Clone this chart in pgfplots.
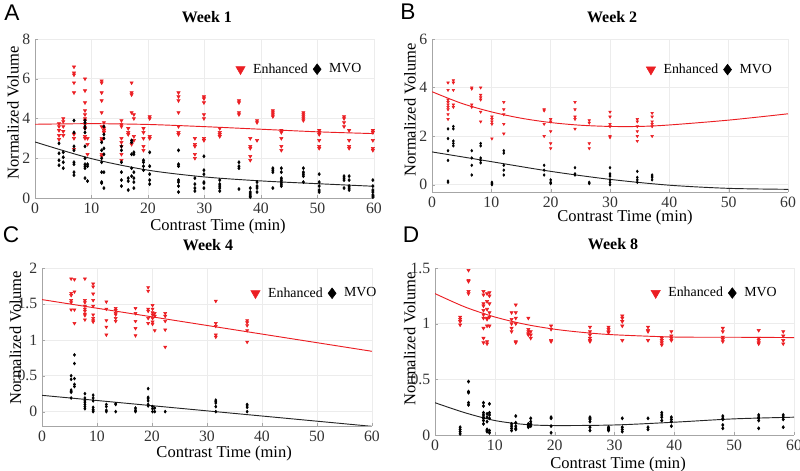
\documentclass[border=0pt]{standalone}
\usepackage{pgfplots}
\pgfplotsset{compat=1.18}
\usepackage{fontspec}
\setmainfont{Liberation Serif}
\newfontfamily\panelfont{Liberation Sans}
\definecolor{mred}{RGB}{235,30,35}
\pgfplotsset{
  panel/.style={
    scale only axis, anchor=south west,
    xmin=0, xmax=60, xtick={0,10,...,60},
    axis x line*=bottom, axis y line*=left,
    axis line style={gray!70, line width=0.5pt},
    grid=major, major grid style={gray!15, line width=0.4pt},
    tick align=inside, major tick length=2pt, tick style={gray!70},
    ticklabel style={font=\fontsize{11.8}{12}\selectfont, text=black!80},
    /pgf/number format/assume math mode=true,
    label style={font=\fontsize{12.4}{14}\selectfont},
    title style={font=\bfseries\fontsize{12}{14}\selectfont, anchor=center},
    xlabel={Contrast Time (min)}, ylabel={Normalized Volume},
    xlabel style={anchor=center}, ylabel style={anchor=center, rotate=0},
    legend style={draw=none, fill=none, font=\fontsize{10.4}{12}\selectfont, anchor=west,
      legend columns=2,
      /tikz/every even column/.append style={column sep=2pt},
      /tikz/every odd column/.append style={column sep=4pt}},
    legend image post style={mark size=4pt},
  },
  enh/.style={only marks, mark=triangle*, mark options={rotate=180, fill=mred, draw=mred}, mark size=1.4pt},
  mvo/.style={only marks, mark=diamond*, mark options={fill=black, draw=black}, mark size=1.2pt},
  fitr/.style={mred, line width=0.7pt, smooth, no marks, forget plot},
  fitk/.style={black!85, line width=0.7pt, smooth, no marks, forget plot},
}
\begin{document}
\begin{tikzpicture}
\useasboundingbox (0,0) rectangle (600pt,353.25pt);
% ---------------- A ----------------
\begin{axis}[panel, at={(26.25pt,204.75pt)}, width=254.25pt, height=119.25pt,
  ymin=0, ymax=8, ytick={0,2,...,8}, title={Week 1},
  title style={at={(axis description cs:0.507,1.088)}},
  xlabel style={at={(axis description cs:0.54,-0.182)}},
  ylabel style={at={(axis description cs:-0.065,0.535)}},
  legend style={at={(0.58,0.81)}}]
\addplot[enh] table[row sep=\\] {x y\\
4.25 3.75\\4.25 3.6\\4.25 3.4\\4.25 3.15\\4.25 2.95\\
5.0 4.0\\5.0 3.85\\5.0 3.6\\5.0 3.35\\5.0 3.15\\
6.9 6.6\\6.9 6.3\\6.9 6.2\\6.9 5.8\\6.9 5.3\\6.9 3.2\\6.9 3.0\\6.9 2.45\\
8.85 6.0\\8.85 5.4\\8.85 4.8\\8.85 4.4\\8.85 4.2\\8.85 4.0\\8.85 3.9\\8.85 3.7\\8.85 3.5\\8.85 3.1\\8.85 3.0\\
9.3 3.0\\9.3 2.7\\9.3 2.2\\
11.8 5.9\\11.8 5.8\\11.8 5.3\\11.8 4.9\\11.8 4.3\\11.8 3.6\\11.8 3.0\\11.8 2.9\\11.8 2.2\\11.8 2.1\\
12.2 3.8\\12.2 3.5\\12.2 3.4\\12.2 3.3\\
15.3 3.9\\15.3 3.7\\15.3 3.6\\15.3 3.0\\15.3 2.8\\15.3 2.6\\15.3 2.2\\15.3 1.9\\
16.5 3.5\\16.5 3.3\\16.5 3.2\\
17.1 5.8\\17.1 5.3\\17.1 5.2\\17.1 4.3\\17.1 2.7\\
17.5 4.2\\17.5 4.0\\17.5 3.1\\17.5 2.9\\
19.2 3.5\\19.2 3.3\\19.2 3.0\\19.2 2.6\\19.2 2.4\\
20.3 4.1\\20.3 4.0\\20.3 3.1\\20.3 3.0\\
25.4 5.3\\25.4 5.1\\25.4 4.9\\25.4 4.3\\25.4 3.6\\25.4 3.3\\25.4 3.2\\
28.3 3.0\\28.3 2.7\\28.3 2.6\\28.3 2.2\\28.3 2.0\\
29.9 5.1\\29.9 5.0\\29.9 4.8\\29.9 4.2\\29.9 4.0\\29.9 3.0\\29.9 2.9\\
32.7 3.5\\32.7 3.3\\32.7 3.2\\32.7 3.1\\
36.1 4.9\\36.1 4.8\\36.1 4.3\\36.1 4.2\\
38.1 3.0\\38.1 2.6\\38.1 2.5\\38.1 2.1\\38.1 1.9\\
39.3 3.9\\39.3 3.8\\39.3 2.9\\
42.1 4.4\\42.1 4.3\\42.1 4.2\\42.1 4.1\\
43.6 3.4\\43.6 3.3\\43.6 3.0\\43.6 2.6\\43.6 2.4\\
47.5 4.3\\47.5 4.2\\47.5 4.1\\47.5 4.0\\47.5 3.9\\
50.3 3.4\\50.3 3.3\\50.3 3.2\\50.3 2.9\\50.3 2.6\\50.3 2.5\\
54.7 4.1\\54.7 4.0\\54.7 3.8\\54.7 3.6\\
55.6 3.4\\55.6 2.9\\55.6 2.6\\55.6 2.5\\
59.8 3.4\\59.8 3.3\\59.8 2.9\\59.8 2.5\\59.8 2.4\\
};
\addlegendentry{Enhanced}
\addplot[mvo] table[row sep=\\] {x y\\
4.25 2.75\\4.25 2.25\\4.25 1.9\\4.25 1.65\\
5.0 2.3\\5.0 2.05\\5.0 1.8\\5.0 1.5\\
6.9 3.9\\6.9 3.3\\6.9 2.6\\6.9 2.4\\6.9 1.8\\6.9 1.7\\6.9 1.3\\6.9 1.15\\
8.85 3.9\\8.85 3.8\\8.85 3.6\\8.85 3.5\\8.85 3.3\\8.85 2.6\\8.85 2.0\\8.85 1.7\\8.85 1.6\\8.85 1.5\\8.85 1.0\\
9.3 1.7\\9.3 1.6\\9.3 0.85\\
11.8 2.8\\11.8 2.4\\11.8 2.0\\11.8 1.8\\11.8 1.3\\11.8 0.8\\11.8 0.75\\
12.2 3.6\\12.2 3.2\\12.2 3.0\\12.2 2.5\\12.2 2.2\\12.2 1.3\\12.2 0.5\\
15.3 2.6\\15.3 2.4\\15.3 1.8\\15.3 1.3\\15.3 0.9\\15.3 0.6\\
16.5 1.0\\16.5 0.85\\16.5 0.4\\
17.1 2.9\\17.1 2.8\\17.1 2.2\\17.1 1.5\\17.1 1.1\\
17.5 2.3\\17.5 2.2\\17.5 1.3\\17.5 1.0\\17.5 0.8\\17.5 0.5\\
19.2 1.9\\19.2 1.8\\19.2 1.6\\19.2 1.4\\
20.3 2.3\\20.3 1.6\\20.3 1.2\\20.3 0.9\\20.3 0.7\\
25.4 2.4\\25.4 1.7\\25.4 1.6\\25.4 0.9\\25.4 0.8\\25.4 0.6\\25.4 0.3\\
28.3 1.0\\28.3 0.7\\28.3 0.5\\28.3 0.35\\
29.9 2.1\\29.9 1.4\\29.9 1.2\\29.9 0.8\\29.9 0.75\\29.9 0.5\\
32.7 0.9\\32.7 0.7\\32.7 0.6\\32.7 0.5\\32.7 0.35\\
36.1 1.8\\36.1 1.6\\36.1 1.5\\36.1 0.45\\
38.1 0.5\\38.1 0.3\\38.1 0.2\\38.1 0.1\\38.1 0.05\\
39.3 0.8\\39.3 0.6\\39.3 0.5\\39.3 0.3\\
42.1 1.5\\42.1 1.4\\42.1 1.3\\42.1 0.5\\
43.6 1.5\\43.6 1.3\\43.6 1.0\\43.6 0.9\\43.6 0.8\\43.6 0.7\\43.6 0.6\\
47.5 1.5\\47.5 1.3\\47.5 1.2\\47.5 1.1\\47.5 0.8\\
50.3 1.2\\50.3 0.8\\50.3 0.6\\50.3 0.4\\50.3 0.3\\
54.7 1.1\\54.7 1.0\\54.7 0.9\\54.7 0.5\\
55.6 1.1\\55.6 0.9\\55.6 0.6\\55.6 0.5\\55.6 0.4\\
59.8 0.9\\59.8 0.6\\59.8 0.4\\59.8 0.3\\59.8 0.15\\59.8 0.05\\
};
\addlegendentry{MVO}
\addplot[fitr] coordinates {(0,3.71) (10,3.74) (20,3.70) (30,3.59) (40,3.46) (50,3.33) (60,3.24)};
\addplot[fitk] coordinates {(0,2.82) (10,1.98) (20,1.40) (30,1.06) (40,0.86) (50,0.72) (60,0.59)};
\end{axis}
% ---------------- B ----------------
\begin{axis}[panel, at={(324pt,209.25pt)}, width=267pt, height=114.75pt,
  ymin=-0.3, ymax=6, ytick={0,2,4,6}, title={Week 2},
  title style={at={(axis description cs:0.506,1.09)}},
  xlabel style={at={(axis description cs:0.542,-0.17)}},
  ylabel style={at={(axis description cs:-0.062,0.536)}},
  legend style={at={(0.59,0.80)}},
  enh/.append style={mark size=1.1pt}, mvo/.append style={mark size=1.0pt}]
\addplot[enh] table[row sep=\\] {x y\\
2.7 4.2\\2.7 3.9\\2.7 3.5\\2.7 3.4\\2.7 3.3\\2.7 3.2\\2.7 3.1\\2.7 2.9\\2.7 2.7\\
3.6 4.3\\3.6 4.2\\3.6 3.9\\3.6 3.3\\3.6 3.2\\
6.7 4.0\\6.7 3.95\\6.7 3.3\\6.7 3.2\\
8.2 4.0\\8.2 3.7\\8.2 3.6\\8.2 3.5\\8.2 3.0\\8.2 2.6\\
10.1 2.8\\10.1 2.7\\10.1 2.6\\10.1 2.5\\10.1 1.9\\
12.1 3.4\\12.1 3.1\\12.1 2.9\\12.1 2.5\\12.1 2.1\\
18.9 3.1\\18.9 3.05\\18.9 2.5\\18.9 2.0\\
20.0 2.7\\20.0 2.6\\20.0 2.2\\20.0 1.7\\20.0 1.5\\
24.1 3.4\\24.1 3.1\\24.1 2.8\\24.1 2.7\\24.1 2.3\\
26.5 2.65\\26.5 2.55\\26.5 1.7\\26.5 1.5\\
30.0 3.0\\30.0 2.8\\30.0 2.5\\30.0 2.4\\30.0 2.0\\30.0 1.95\\
34.6 2.7\\34.6 2.6\\34.6 2.4\\34.6 2.2\\34.6 2.0\\34.6 1.8\\
37.1 2.95\\37.1 2.8\\37.1 2.6\\37.1 2.5\\37.1 2.4\\37.1 2.0\\
};
\addlegendentry{Enhanced}
\addplot[mvo] table[row sep=\\] {x y\\
2.7 2.3\\2.7 1.9\\2.7 1.4\\2.7 1.0\\2.7 0.15\\2.7 0.1\\
3.6 2.4\\3.6 2.3\\3.6 1.8\\3.6 1.7\\3.6 1.6\\
6.7 1.4\\6.7 1.1\\6.7 0.8\\6.7 0.4\\
8.2 1.7\\8.2 1.6\\8.2 1.1\\8.2 1.0\\8.2 0.9\\
10.1 0.1\\10.1 0.05\\10.1 0.0\\
12.1 1.4\\12.1 1.3\\12.1 0.8\\12.1 0.6\\12.1 0.4\\
18.9 0.8\\18.9 0.6\\18.9 0.4\\
20.0 0.2\\20.0 0.1\\20.0 0.05\\
24.1 0.7\\24.1 0.45\\24.1 0.4\\
26.5 0.1\\26.5 0.05\\
30.0 0.7\\30.0 0.45\\30.0 0.4\\30.0 0.35\\30.0 0.2\\30.0 0.1\\30.0 0.0\\
34.6 0.55\\34.6 0.3\\34.6 0.2\\34.6 0.1\\
37.1 0.4\\37.1 0.35\\37.1 0.3\\37.1 0.2\\
};
\addlegendentry{MVO}
\addplot[fitr] coordinates {(0,3.83) (5,3.35) (10,3.0) (15,2.74) (20,2.56) (25,2.45) (30,2.40) (35,2.40) (40,2.46) (50,2.66) (60,2.92)};
\addplot[fitk] coordinates {(0,1.35) (10,0.95) (20,0.55) (30,0.22) (40,-0.02) (50,-0.15) (60,-0.19)};
\end{axis}
% ---------------- C ----------------
\begin{axis}[panel, at={(31.5pt,33.75pt)}, width=247.5pt, height=118.5pt,
  ymin=-0.2, ymax=2, ytick={0,0.5,...,2}, title={Week 4},
  title style={at={(axis description cs:0.503,1.095)}},
  xlabel style={at={(axis description cs:0.552,-0.177)}},
  ylabel style={at={(axis description cs:-0.08,0.557)}},
  legend style={at={(0.62,0.84)}},
  enh/.append style={mark size=1.3pt}, mvo/.append style={mark size=1.1pt}]
\addplot[enh] table[row sep=\\] {x y\\
5.3 1.85\\5.3 1.65\\5.3 1.62\\5.3 1.55\\5.3 1.52\\5.3 1.42\\
5.9 1.84\\5.9 1.67\\5.9 1.42\\5.9 1.23\\
7.8 1.85\\7.8 1.55\\7.8 1.52\\7.8 1.47\\7.8 1.43\\7.8 1.4\\7.8 1.36\\7.8 1.34\\7.8 1.28\\
9.3 1.78\\9.3 1.74\\9.3 1.64\\9.3 1.55\\9.3 1.47\\9.3 1.35\\9.3 1.3\\9.3 1.27\\9.3 1.25\\
11.7 1.53\\11.7 1.43\\11.7 1.27\\11.7 1.18\\11.7 1.07\\
13.4 1.44\\13.4 1.41\\13.4 1.37\\13.4 1.35\\13.4 1.3\\13.4 1.26\\
17.0 1.44\\17.0 1.37\\17.0 1.26\\17.0 1.16\\17.0 1.06\\
19.3 1.73\\19.3 1.68\\19.3 1.43\\19.3 1.4\\19.3 1.3\\19.3 1.23\\
20.1 1.48\\20.1 1.43\\20.1 1.38\\20.1 1.35\\20.1 1.3\\20.1 1.25\\20.1 1.22\\
20.5 1.37\\20.5 1.33\\20.5 1.13\\
22.4 1.37\\22.4 1.33\\22.4 1.26\\22.4 1.14\\22.4 0.9\\
31.6 1.54\\31.6 1.23\\31.6 1.19\\31.6 1.07\\31.6 1.04\\
37.3 1.27\\37.3 1.24\\37.3 1.2\\37.3 1.13\\37.3 0.97\\
};
\addlegendentry{Enhanced}
\addplot[mvo] table[row sep=\\] {x y\\
5.3 0.5\\5.3 0.45\\5.3 0.3\\5.3 0.28\\5.3 0.27\\5.3 0.19\\
5.9 0.79\\5.9 0.67\\5.9 0.46\\5.9 0.38\\5.9 0.35\\
7.8 0.25\\7.8 0.19\\7.8 0.15\\7.8 0.13\\7.8 0.1\\7.8 0.07\\7.8 0.04\\
9.3 0.23\\9.3 0.19\\9.3 0.15\\9.3 0.06\\9.3 0.03\\9.3 0.01\\9.3 0.0\\
11.7 0.1\\11.7 0.07\\11.7 0.02\\11.7 0.0\\
13.4 0.11\\13.4 0.1\\13.4 0.0\\
17.0 0.05\\17.0 0.02\\17.0 0.0\\
19.3 0.32\\19.3 0.2\\19.3 0.18\\19.3 0.15\\19.3 0.1\\19.3 0.08\\
20.1 0.07\\20.1 0.04\\20.1 0.0\\
20.5 0.05\\20.5 0.0\\
22.4 0.0\\
31.6 0.16\\31.6 0.14\\31.6 0.12\\31.6 0.07\\31.6 0.0\\
37.3 0.1\\37.3 0.08\\37.3 0.06\\37.3 0.0\\
};
\addlegendentry{MVO}
\addplot[fitr] coordinates {(0,1.56) (60,0.84)};
\addplot[fitk] coordinates {(0,0.227) (60,-0.205)};
\end{axis}
% ---------------- D ----------------
\begin{axis}[panel, at={(326.25pt,27pt)}, width=269.25pt, height=125.25pt,
  ymin=0, ymax=1.5, ytick={0,0.5,1,1.5}, title={Week 8},
  title style={at={(axis description cs:0.496,1.096)}},
  xlabel style={at={(axis description cs:0.51,-0.175)}},
  ylabel style={at={(axis description cs:-0.07,0.575)}},
  legend style={at={(0.59,0.85)}}]
\addplot[enh] table[row sep=\\] {x y\\
4.2 1.06\\4.2 1.04\\4.2 1.02\\4.2 0.99\\
5.6 1.48\\5.6 1.39\\5.6 1.38\\5.6 1.29\\5.6 1.27\\
8.1 1.29\\8.1 1.26\\8.1 1.18\\8.1 1.16\\8.1 1.12\\8.1 1.08\\8.1 1.05\\8.1 0.96\\8.1 0.87\\8.1 0.83\\
8.7 1.27\\8.7 1.2\\8.7 1.13\\8.7 1.05\\8.7 1.04\\8.7 0.98\\8.7 0.84\\8.7 0.82\\
9.1 1.28\\9.1 1.25\\9.1 1.18\\9.1 1.1\\9.1 1.06\\9.1 0.98\\
12.8 1.1\\12.8 1.04\\12.8 1.0\\12.8 0.96\\12.8 0.93\\
13.5 1.17\\13.5 1.1\\13.5 1.05\\13.5 1.0\\13.5 0.84\\13.5 0.83\\
15.6 1.05\\15.6 0.95\\15.6 0.93\\15.6 0.91\\15.6 0.9\\
16.0 0.93\\16.0 0.9\\16.0 0.87\\
19.4 0.98\\19.4 0.95\\19.4 0.85\\19.4 0.84\\
25.9 0.97\\25.9 0.93\\25.9 0.9\\25.9 0.87\\25.9 0.85\\25.9 0.84\\
29.0 0.97\\29.0 0.95\\29.0 0.93\\29.0 0.92\\
31.3 1.07\\31.3 1.05\\31.3 1.02\\31.3 0.98\\31.3 0.85\\
35.6 0.97\\35.6 0.94\\35.6 0.93\\35.6 0.85\\
37.9 0.87\\37.9 0.85\\37.9 0.83\\37.9 0.81\\
39.5 0.93\\39.5 0.89\\39.5 0.87\\39.5 0.85\\
48.1 0.96\\48.1 0.93\\48.1 0.88\\48.1 0.86\\48.1 0.84\\
54.1 0.94\\54.1 0.87\\54.1 0.85\\54.1 0.83\\54.1 0.82\\
58.2 0.93\\58.2 0.89\\58.2 0.85\\58.2 0.82\\
};
\addlegendentry{Enhanced}
\addplot[mvo] table[row sep=\\] {x y\\
4.2 0.07\\4.2 0.05\\4.2 0.03\\4.2 0.01\\
5.6 0.48\\5.6 0.39\\5.6 0.38\\5.6 0.29\\5.6 0.27\\
8.1 0.29\\8.1 0.26\\8.1 0.2\\8.1 0.18\\8.1 0.16\\8.1 0.15\\8.1 0.13\\8.1 0.1\\
8.7 0.19\\8.7 0.16\\8.7 0.12\\8.7 0.05\\8.7 0.04\\8.7 0.03\\
9.1 0.28\\9.1 0.2\\9.1 0.18\\9.1 0.15\\9.1 0.04\\9.1 0.02\\
12.8 0.1\\12.8 0.08\\12.8 0.06\\12.8 0.04\\
13.5 0.17\\13.5 0.11\\13.5 0.08\\13.5 0.06\\13.5 0.05\\
15.6 0.1\\15.6 0.09\\15.6 0.08\\15.6 0.07\\
16.0 0.15\\16.0 0.12\\16.0 0.1\\16.0 0.08\\
19.4 0.16\\19.4 0.15\\19.4 0.08\\19.4 0.02\\
25.9 0.16\\25.9 0.15\\25.9 0.14\\25.9 0.12\\25.9 0.07\\25.9 0.04\\
29.0 0.07\\29.0 0.06\\29.0 0.05\\29.0 0.04\\
31.3 0.15\\31.3 0.07\\31.3 0.05\\31.3 0.03\\
35.6 0.15\\35.6 0.07\\35.6 0.05\\
37.9 0.2\\37.9 0.18\\37.9 0.16\\37.9 0.13\\
39.5 0.16\\39.5 0.14\\39.5 0.12\\39.5 0.08\\
48.1 0.17\\48.1 0.15\\48.1 0.14\\48.1 0.09\\48.1 0.06\\
54.1 0.18\\54.1 0.16\\54.1 0.15\\54.1 0.13\\54.1 0.06\\
58.2 0.18\\58.2 0.16\\58.2 0.14\\58.2 0.07\\
};
\addlegendentry{MVO}
\addplot[fitr] coordinates {(0,1.27) (5,1.15) (10,1.06) (15,0.995) (20,0.95) (25,0.92) (30,0.90) (40,0.88) (50,0.878) (60,0.875)};
\addplot[fitk] coordinates {(0,0.29) (5,0.20) (10,0.13) (15,0.095) (20,0.085) (30,0.09) (40,0.115) (50,0.145) (60,0.16)};
\end{axis}
% panel letters
\node[font=\panelfont\fontsize{17}{18}\selectfont] at (9pt,343.5pt) {A};
\node[font=\panelfont\fontsize{17}{18}\selectfont] at (306pt,344.25pt) {B};
\node[font=\panelfont\fontsize{17}{18}\selectfont] at (8.25pt,177pt) {C};
\node[font=\panelfont\fontsize{17}{18}\selectfont] at (308.25pt,177pt) {D};
\end{tikzpicture}
\end{document}
